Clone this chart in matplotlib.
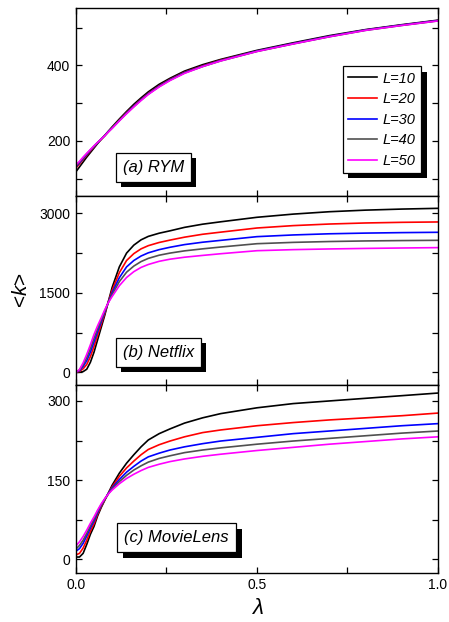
import numpy as np
import matplotlib
matplotlib.use("Agg")
import matplotlib.pyplot as plt
import matplotlib.patheffects as pe
from matplotlib.ticker import MultipleLocator, FormatStrFormatter

plt.rcParams['font.family'] = ['Liberation Sans', 'DejaVu Sans']
plt.rcParams['mathtext.fontset'] = 'custom'
plt.rcParams['mathtext.rm'] = 'Liberation Sans'
plt.rcParams['mathtext.it'] = 'Liberation Sans:italic'

# lambda values the curves were read at
lam = [0, 0.01, 0.02, 0.03, 0.04, 0.05, 0.06, 0.07, 0.08, 0.09, 0.10, 0.12, 0.14,
       0.16, 0.18, 0.20, 0.23, 0.26, 0.30, 0.35, 0.40, 0.50, 0.60, 0.70, 0.80, 0.90, 1.0]

labels = ['L=10', 'L=20', 'L=30', 'L=40', 'L=50']
colors = ['#000000', '#ff0000', '#0000ff', '#505050', '#ff00ff']

# (a) RYM
rym_10 = [118, 131, 144, 157, 169, 181, 193, 204, 215, 226, 237, 258, 278, 297, 314, 330, 350, 366, 385, 402, 416, 440, 460, 479, 495, 508, 520]
rym_20 = [128, 139, 151, 162, 173, 184, 195, 204, 214, 225, 235, 255, 275, 293, 310, 326, 346, 363, 382, 399, 414, 438, 458, 477, 494, 507, 519]
rym_30 = [131, 142, 153, 164, 175, 185, 195, 205, 214, 225, 234, 254, 274, 292, 309, 325, 345, 362, 381, 398, 413, 438, 458, 477, 494, 507, 519]
rym_40 = [133, 144, 155, 166, 176, 186, 196, 205, 214, 224, 234, 254, 273, 291, 308, 324, 344, 361, 380, 397, 412, 437, 457, 476, 493, 506, 518]
rym_50 = [136, 146, 157, 167, 177, 187, 196, 205, 214, 224, 233, 253, 272, 290, 307, 323, 343, 360, 379, 397, 412, 437, 457, 476, 493, 506, 518]

# (b) Netflix
nf_10 = [0, 3, 15, 60, 190, 380, 615, 850, 1085, 1345, 1600, 1990, 2250, 2400, 2500, 2565, 2625, 2670, 2735, 2795, 2840, 2925, 2985, 3030, 3060, 3080, 3094]
nf_20 = [0, 20, 68, 150, 296, 487, 700, 908, 1117, 1337, 1546, 1880, 2110, 2240, 2330, 2390, 2450, 2495, 2550, 2605, 2645, 2723, 2768, 2798, 2818, 2830, 2837]
nf_30 = [0, 33, 111, 222, 381, 574, 769, 954, 1143, 1330, 1501, 1785, 1990, 2110, 2195, 2255, 2315, 2360, 2410, 2455, 2490, 2560, 2592, 2614, 2627, 2636, 2642]
nf_40 = [0, 44, 145, 281, 451, 645, 824, 992, 1164, 1325, 1466, 1712, 1890, 2005, 2090, 2150, 2210, 2250, 2292, 2330, 2364, 2427, 2452, 2468, 2479, 2486, 2491]
nf_50 = [0, 55, 180, 340, 520, 715, 880, 1030, 1185, 1320, 1430, 1635, 1790, 1900, 1980, 2035, 2095, 2135, 2172, 2206, 2238, 2295, 2315, 2328, 2338, 2346, 2353]

# (c) MovieLens
ml_10 = [4, 4, 11, 28, 47, 62, 82, 98, 112, 126, 140, 163, 182, 198, 213, 226, 238, 247, 258, 268, 276, 287, 295, 300, 305, 310, 315]
ml_20 = [8, 11, 21, 36, 53, 67, 85, 100, 113, 125, 137, 157, 173, 186, 198, 208, 217, 224, 232, 240, 245, 253, 259, 264, 268, 272, 277]
ml_30 = [15, 20, 30, 44, 59, 72, 88, 102, 114, 125, 135, 151, 165, 176, 186, 194, 201, 207, 213, 219, 224, 231, 238, 243, 248, 253, 257]
ml_40 = [19, 26, 36, 49, 63, 76, 91, 103, 114, 124, 133, 147, 159, 169, 177, 184, 191, 196, 202, 207, 211, 218, 224, 229, 234, 239, 243]
ml_50 = [25, 33, 43, 55, 68, 80, 93, 105, 115, 124, 131, 143, 153, 161, 168, 174, 180, 185, 190, 195, 199, 206, 212, 218, 223, 228, 232]

panels = [
    ("(a) RYM", [rym_10, rym_20, rym_30, rym_40, rym_50], (53, 552), 200, 100, (0.129, 0.116)),
    ("(b) Netflix", [nf_10, nf_20, nf_30, nf_40, nf_50], (-230, 3320), 1500, 750, (0.129, 0.132)),
    ("(c) MovieLens", [ml_10, ml_20, ml_30, ml_40, ml_50], (-26, 331), 150, 75, (0.134, 0.147)),
]

fig, axes = plt.subplots(3, 1, figsize=(4.49, 6.22), dpi=100, sharex=True)
fig.subplots_adjust(left=0.169, right=0.9755, top=0.987, bottom=0.079, hspace=0)

shadow = [pe.SimplePatchShadow(offset=(4, -4), shadow_rgbFace='k', alpha=1), pe.Normal()]

for ax, (name, series, ylim, major, minor, pos) in zip(axes, panels):
    for ys, c, lab in zip(series, colors, labels):
        ax.plot(lam, ys, color=c, lw=1.2, label=lab)
    ax.set_xlim(0, 1)
    ax.set_ylim(*ylim)
    ax.yaxis.set_major_locator(MultipleLocator(major))
    ax.yaxis.set_minor_locator(MultipleLocator(minor))
    ax.xaxis.set_major_locator(MultipleLocator(0.5))
    ax.xaxis.set_minor_locator(MultipleLocator(0.25))
    ax.xaxis.set_major_formatter(FormatStrFormatter('%.1f'))
    ax.tick_params(which='both', direction='in', top=True, right=True,
                   length=4, width=0.9, labelsize=10, pad=4)
    for s in ax.spines.values():
        s.set_linewidth(1.0)
    t = ax.text(pos[0], pos[1], name, transform=ax.transAxes, fontsize=12,
                style='italic', ha='left', va='bottom',
                bbox=dict(boxstyle='square,pad=0.42', fc='white', ec='black', lw=0.9))
    t.get_bbox_patch().set_path_effects(shadow)

leg = axes[0].legend(loc='upper right', bbox_to_anchor=(0.953, 0.69), borderaxespad=0,
                     prop={'style': 'italic', 'size': 10.5}, fancybox=False,
                     edgecolor='black', framealpha=1, labelspacing=0.45,
                     handlelength=2.0, handletextpad=0.4, borderpad=0.35)
leg.get_frame().set_linewidth(0.9)
leg.legendPatch.set_path_effects(shadow)

axes[1].set_ylabel('<$k$>', fontsize=15, labelpad=6)
axes[2].set_xlabel(r'$\lambda$', fontsize=16, labelpad=4)

fig.savefig('out.png', dpi=100)
